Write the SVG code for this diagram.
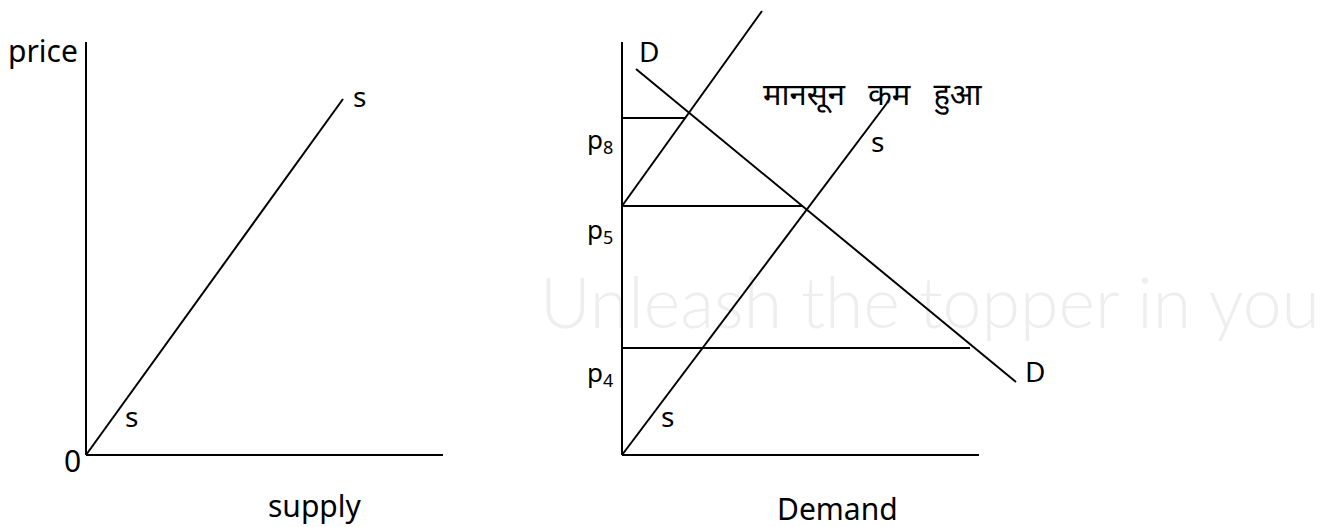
<svg xmlns="http://www.w3.org/2000/svg" width="1322" height="527" viewBox="0 0 1322 527">
  <style>
    .ln { stroke: #000; stroke-width: 2; fill: none; stroke-linecap: butt; }
    .t { font-family: "Noto Sans", "Open Sans", "Liberation Sans", sans-serif; fill: #000; }
    .lg { font-size: 30px; }
    .md { font-size: 28px; }
    .pl { font-size: 26px; }
    .sub { font-size: 18px; }
    .dev { font-family: "Noto Sans Devanagari", "Lohit Devanagari", "Noto Sans", "FreeSans", sans-serif; font-size: 31px; fill: #000; word-spacing: 15px; }
    .wm { font-family: "Lato", "Noto Sans", sans-serif; font-weight: 300; font-size: 70px; fill: #eeeeee; }
  </style>
  <rect width="1322" height="527" fill="#fff"/>
  <g id="watermark">
    <text class="wm" x="540" y="328" textLength="780" lengthAdjust="spacingAndGlyphs">Unleash the topper in you</text>
  </g>
  <g id="connectors">
    <!-- left chart -->
    <line class="ln" x1="86" y1="42" x2="86" y2="455"/>
    <line class="ln" x1="86" y1="455" x2="443" y2="455"/>
    <line class="ln" x1="86" y1="455" x2="343" y2="99"/>
    <!-- right chart -->
    <line class="ln" x1="622" y1="42" x2="622" y2="455"/>
    <line class="ln" x1="622" y1="455" x2="979" y2="455"/>
    <line class="ln" x1="622" y1="206" x2="762" y2="11"/>
    <line class="ln" x1="636" y1="69" x2="1016" y2="382"/>
    <line class="ln" x1="622" y1="455" x2="887" y2="103"/>
    <line class="ln" x1="622" y1="118" x2="686" y2="118"/>
    <line class="ln" x1="622" y1="206" x2="803" y2="206"/>
    <line class="ln" x1="622" y1="348" x2="970" y2="348"/>
  </g>
  <g id="supply-chart-labels">
    <text class="t lg" x="8" y="62">price</text>
    <text class="t md" x="353" y="107">s</text>
    <text class="t md" x="125" y="427">s</text>
    <text class="t lg" x="64" y="472">0</text>
    <text class="t lg" x="268" y="517">supply</text>
  </g>
  <g id="demand-chart-labels">
    <text class="t md" x="639" y="62">D</text>
    <text class="t pl" x="587" y="149">p<tspan class="sub" dy="5">8</tspan></text>
    <text class="t pl" x="587" y="239">p<tspan class="sub" dy="5">5</tspan></text>
    <text class="t pl" x="587" y="382">p<tspan class="sub" dy="5">4</tspan></text>
    <text class="dev" x="763" y="105">मानसून कम हुआ</text>
    <text class="t md" x="871" y="152">s</text>
    <text class="t md" x="1025" y="382">D</text>
    <text class="t md" x="661" y="427">s</text>
    <text class="t lg" x="777" y="520">Demand</text>
  </g>
</svg>
